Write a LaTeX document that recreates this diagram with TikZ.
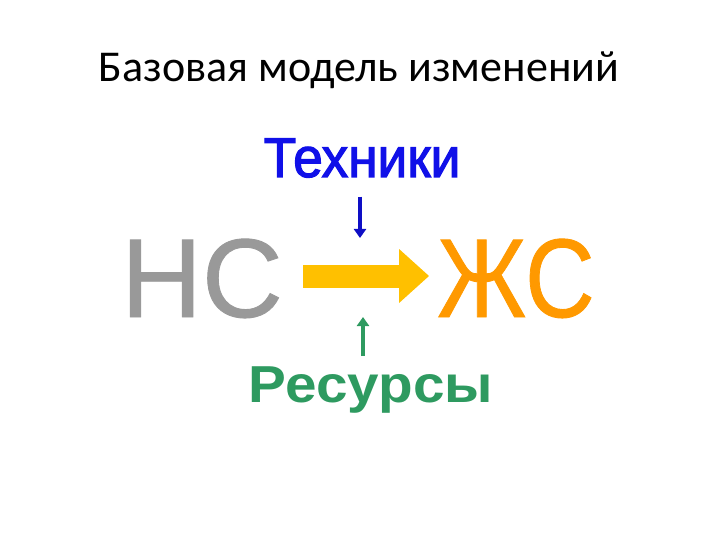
\documentclass[tikz,border=0pt]{standalone}
\usepackage{fontspec}
\setmainfont{Carlito}
\newfontfamily\arialfont{Liberation Sans}
\newfontfamily\bigfont[FakeBold=0.8]{Liberation Sans}
\newfontfamily\heavyfont[FakeBold=2.2]{Liberation Sans}
\usepackage{tikz}
\usetikzlibrary{arrows.meta}
\definecolor{ncgray}{HTML}{999999}
\definecolor{zcorange}{HTML}{FF9900}
\definecolor{flowyellow}{HTML}{FFC000}
\definecolor{techblue}{HTML}{1010E8}
\definecolor{resgreen}{HTML}{2E9A60}
\def\fsz#1{\fontsize{#1}{#1}\selectfont}

\begin{document}
\begin{tikzpicture}[x=1pt,y=-1pt,
   word/.style={inner sep=0pt,anchor=base},
   flow/.style={flowyellow,line width=23pt,-{Triangle[length=30pt,width=52pt]}},
   push/.style={line width=4pt,-{Triangle[length=9pt,width=12pt]}}]
   \useasboundingbox (0,0) rectangle (720,540);

   \node[word] (title) at (359,82) {\fsz{44}Базовая модель изменений};

   \node[word,techblue,xscale=0.95] (tech) at (362,177) {\heavyfont\fsz{56}Техники};
   \node[word,ncgray] (nc) at (202,317) {\bigfont\fsz{112}НС};
   \node[word,zcorange,xscale=0.86] (zc) at (516,317) {\bigfont\fsz{112}ЖС};
   \node[word,resgreen,xscale=1.09] (res) at (371,402) {\arialfont\bfseries\fsz{52}Ресурсы};

   \coordinate (flowTop) at (360,238);
   \coordinate (flowBot) at (363,317);

   \draw[flow,shorten <=20pt,shorten >=8pt] (nc.east |- 0,276) -- (zc.west |- 0,276);
   \draw[push,techblue!85!black,shorten <=19pt] (tech.south -| flowTop) -- (flowTop);
   \draw[push,resgreen,shorten <=10pt] (res.north -| flowBot) -- (flowBot);
\end{tikzpicture}
\end{document}
